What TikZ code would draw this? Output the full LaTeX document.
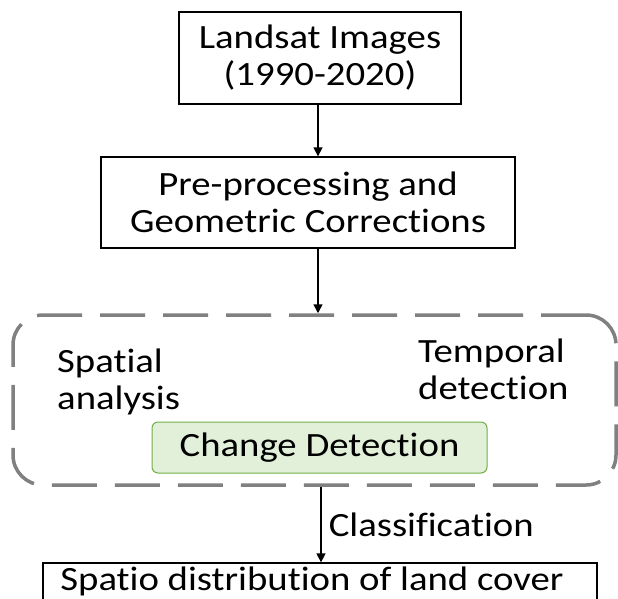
\documentclass[tikz,border=0pt]{standalone}
\usepackage{fontspec}
\setmainfont{Carlito}[FakeStretch=1.14, Ligatures=NoCommon]
\usetikzlibrary{arrows.meta,positioning}
\definecolor{dashgray}{RGB}{128,128,128}
\definecolor{cdfill}{RGB}{226,240,217}
\definecolor{cdline}{RGB}{112,173,71}

\tikzset{
	stage/.style={draw, rectangle, line width=1.3pt, align=center, inner sep=0pt},
	label/.style={align=left, inner sep=0pt},
	flow/.style={->, >={Triangle[width=9pt,length=9pt]}, line width=1.5pt},
}

\begin{document}
\begin{tikzpicture}[x=1pt, y=-1pt, every node/.style={font=\fontsize{34}{37}\selectfont}]
	\useasboundingbox (0,0) rectangle (618,599);
	\node[stage, minimum width=282pt, minimum height=92pt] (landsat) at (320,58) {Landsat Images\\(1990-2020)};
	\node[stage, minimum width=414pt, minimum height=91pt] (prep) at (308,202.5) {Pre-processing and\\Geometric Corrections};
	
	\node[draw=dashgray, line width=3.5pt, dash pattern=on 45pt off 18pt, rounded corners=30pt, minimum width=603pt, minimum height=170pt] (group) at (314.5,400) {};
	\node[label, anchor=west] (spatial) at (57,382) {Spatial\\analysis};
	\node[label, anchor=west] (temporal) at (418,369) {Temporal\\detection};
	\node[draw=cdline, fill=cdfill, line width=1pt, rounded corners=6pt, minimum width=335pt, minimum height=51pt, inner sep=0pt] (change) at (319.5,447.5) {Change Detection};
	
	\node[stage, minimum width=554pt, minimum height=60pt] (spatio) at (320,593) {};
	\node[inner sep=0pt, anchor=base] (spatiotext) at (312,590) {Spatio distribution of land cover};
	
	\draw[flow] (landsat.south -| 318,0) -- (prep.north -| 318,0);
	\draw[flow] (prep.south -| 318,0) -- (group.north -| 318,0);
	\draw[flow] (group.south -| 321,0) -- node[right, inner sep=0pt, xshift=7pt] (classify) {Classification} (spatio.north -| 321,0);
\end{tikzpicture}
\end{document}
